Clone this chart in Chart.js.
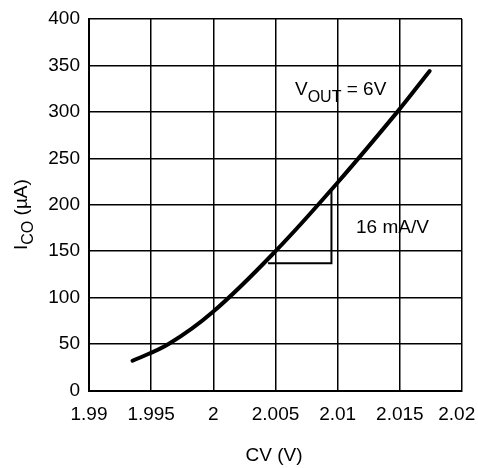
<!DOCTYPE html>
<html>
<head>
<meta charset="utf-8">
<script src="https://cdn.jsdelivr.net/npm/chart.js@4/dist/chart.umd.min.js"></script>
<style>
  html, body { margin: 0; padding: 0; background: #fff; }
  #wrap { width: 478px; height: 468px; }
</style>
</head>
<body>
<div id="wrap"><canvas id="chart" width="478" height="468"></canvas></div>
<script>
// curve, CV (V) vs ICO (uA)
var cvValues = [1.9935, 1.9964, 2.0, 2.005, 2.01, 2.0148, 2.0174];
var icoValues = [32, 50, 85, 150, 224, 300, 344];

// slope triangle (16 mA/V)
var triX = [2.0044, 2.0095, 2.0095];
var triY = [137, 137, 216];

var xTicks = [1.99, 1.995, 2, 2.005, 2.01, 2.015, 2.02];
var xTickLabels = ["1.99", "1.995", "2", "2.005", "2.01", "2.015", "2.02"];
var yTicks = [0, 50, 100, 150, 200, 250, 300, 350, 400];

var FONT = "'Liberation Sans', Arial, sans-serif";

function toPoints(xs, ys) {
  return xs.map(function(x, i) { return { x: x, y: ys[i] }; });
}

// axis titles and notes, drawn by hand for the subscripts
var textPlugin = {
  id: 'texts',
  afterDraw: function(chart) {
    var ctx = chart.ctx;
    ctx.save();
    ctx.fillStyle = '#000';
    ctx.textBaseline = 'alphabetic';
    ctx.textAlign = 'left';

    // V_OUT = 6V
    var x = 295;
    ctx.font = '19px ' + FONT;
    ctx.fillText('V', x, 95);
    x += ctx.measureText('V').width;
    ctx.font = '16px ' + FONT;
    ctx.fillText('OUT', x, 102);
    x += ctx.measureText('OUT').width;
    ctx.font = '19px ' + FONT;
    ctx.fillText(' = 6V', x, 95);

    // slope note
    ctx.fillText('16 mA/V', 356, 233);

    // x title
    ctx.textAlign = 'center';
    ctx.fillText('CV (V)', 274, 461);

    // y title, rotated
    ctx.translate(27, 250);
    ctx.rotate(-Math.PI / 2);
    ctx.textAlign = 'left';
    var t = 0;
    ctx.font = '19px ' + FONT;
    ctx.fillText('I', t, 0);
    t += ctx.measureText('I').width;
    ctx.font = '16px ' + FONT;
    ctx.fillText('CO', t, 6);
    t += ctx.measureText('CO').width;
    ctx.font = '19px ' + FONT;
    ctx.fillText(' (\u00b5A)', t, 0);
    ctx.restore();
  }
};

new Chart(document.getElementById('chart'), {
  type: 'scatter',
  data: {
    datasets: [{
      data: toPoints(cvValues, icoValues),
      showLine: true,
      borderColor: '#000',
      borderWidth: 4,
      pointRadius: 0,
      tension: 0.4,
      borderCapStyle: 'round'
    }, {
      data: toPoints(triX, triY),
      showLine: true,
      borderColor: '#000',
      borderWidth: 2,
      pointRadius: 0,
      tension: 0
    }]
  },
  options: {
    responsive: false,
    animation: false,
    layout: { padding: { left: 0, right: 16, top: 19, bottom: 0 } },
    plugins: {
      legend: { display: false },
      tooltip: { enabled: false }
    },
    scales: {
      x: {
        type: 'linear',
        min: 1.99,
        max: 2.02,
        afterBuildTicks: function(scale) {
          scale.ticks = xTicks.map(function(v) { return { value: v }; });
        },
        afterFit: function(scale) {
          scale.height = 77.5;
          scale.paddingLeft = 0;
          scale.paddingRight = 0;
        },
        ticks: {
          color: '#000',
          font: { family: FONT, size: 19 },
          padding: 13,
          maxRotation: 0,
          autoSkip: false,
          callback: function(value, index) {
            // last label nudged inward so it stays on the canvas
            return index === xTickLabels.length - 1 ? xTickLabels[index] + '  ' : xTickLabels[index];
          }
        },
        grid: { color: '#000', lineWidth: 1.5, drawTicks: false },
        border: { color: '#000', width: 2 }
      },
      y: {
        type: 'linear',
        min: 0,
        max: 400,
        afterBuildTicks: function(scale) {
          scale.ticks = yTicks.map(function(v) { return { value: v }; });
        },
        afterFit: function(scale) {
          scale.width = 89;
          scale.paddingTop = 0;
          scale.paddingBottom = 0;
        },
        ticks: {
          color: '#000',
          font: { family: FONT, size: 19 },
          padding: 9,
          autoSkip: false
        },
        grid: { color: '#000', lineWidth: 1.5, drawTicks: false },
        border: { color: '#000', width: 2 }
      }
    }
  },
  plugins: [textPlugin]
});
</script>
</body>
</html>
